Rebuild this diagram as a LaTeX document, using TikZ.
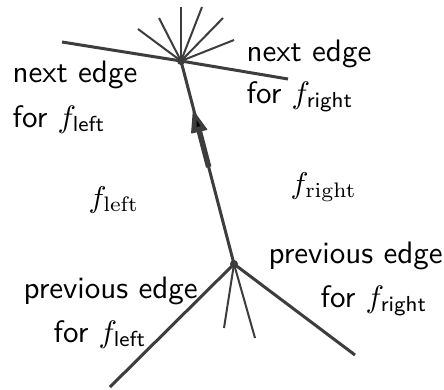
\documentclass[tikz,border=0pt]{standalone}
\usepackage{amsmath}
\definecolor{edgegray}{HTML}{3D3D3D}
\begin{document}
\begin{tikzpicture}[x=1pt,y=-1pt,
  edge/.style={draw=edgegray,line width=3pt},
  spoke/.style={draw=edgegray,line width=2pt},
  vertex/.style={circle,fill=edgegray,inner sep=0pt,minimum size=8pt},
  lbl/.style={font=\sffamily,scale=3.1,inner sep=0pt,anchor=base west},
  face/.style={scale=3,inner sep=0pt,anchor=base west}]
\useasboundingbox[fill=white] (0,0) rectangle (444,389);
% vertices
\node[vertex] (T) at (181,61) {};
\node[vertex] (B) at (234,264) {};
% free ends
\coordinate (l1) at (62,42);
\coordinate (r1) at (288,79);
\coordinate (s1) at (138,29);
\coordinate (s2) at (159,18);
\coordinate (s3) at (181,7);
\coordinate (s4) at (202,7);
\coordinate (s5) at (223,18);
\coordinate (s6) at (234,40);
\coordinate (b1) at (110,387);
\coordinate (b2) at (224,328);
\coordinate (b3) at (255,338);
\coordinate (b4) at (355,355);
% arrow marker on the main edge
\coordinate (a0) at (208.7,167);
\coordinate (ab) at (199.1,130.3);
\coordinate (at) at (193.3,111);
\coordinate (aL) at (191.6,133);
\coordinate (aR) at (206.8,129.5);
\coordinate (m1) at (196.5,120);
\coordinate (m2) at (196.5,127);
\coordinate (m3) at (200.5,126);
% top
\draw[edge] (l1) -- (T.center) -- (r1);
\foreach \s in {s1,s2,s3,s4,s5,s6} \draw[spoke] (T.center) -- (\s);
% bottom
\draw[edge] (B.center) -- (b1);
\draw[edge] (B.center) -- (b4);
\draw[spoke] (B.center) -- (b2);
\draw[spoke] (B.center) -- (b3);
% main edge
\draw[edge] (B.center) -- (T.center);
\draw[draw=edgegray,line width=5.5pt] (a0) -- (ab);
\fill[edgegray,draw=edgegray,line width=1pt,line join=round] (at) -- (aL) -- (aR) -- cycle;
\fill[black] (m1) -- (m2) -- (m3) -- cycle;
% labels
\node[lbl] (nl1) at (12,82) {next edge};
\node[lbl] (nl2) at (12,127) {for $f_{\textsf{left}}$};
\node[lbl] (nr1) at (246,61) {next edge};
\node[lbl] (nr2) at (246,103) {for $f_{\textsf{right}}$};
\node[lbl] (pr1) at (268,263) {previous edge};
\node[lbl] (pr2) at (320,307) {for $f_{\textsf{right}}$};
\node[lbl] (pl1) at (23,298) {previous edge};
\node[lbl] (pl2) at (53,342) {for $f_{\textsf{left}}$};
\node[face] (fl) at (88,207) {$f_{\mathrm{left}}$};
\node[face] (fr) at (290,193) {$f_{\mathrm{right}}$};
\end{tikzpicture}
\end{document}
